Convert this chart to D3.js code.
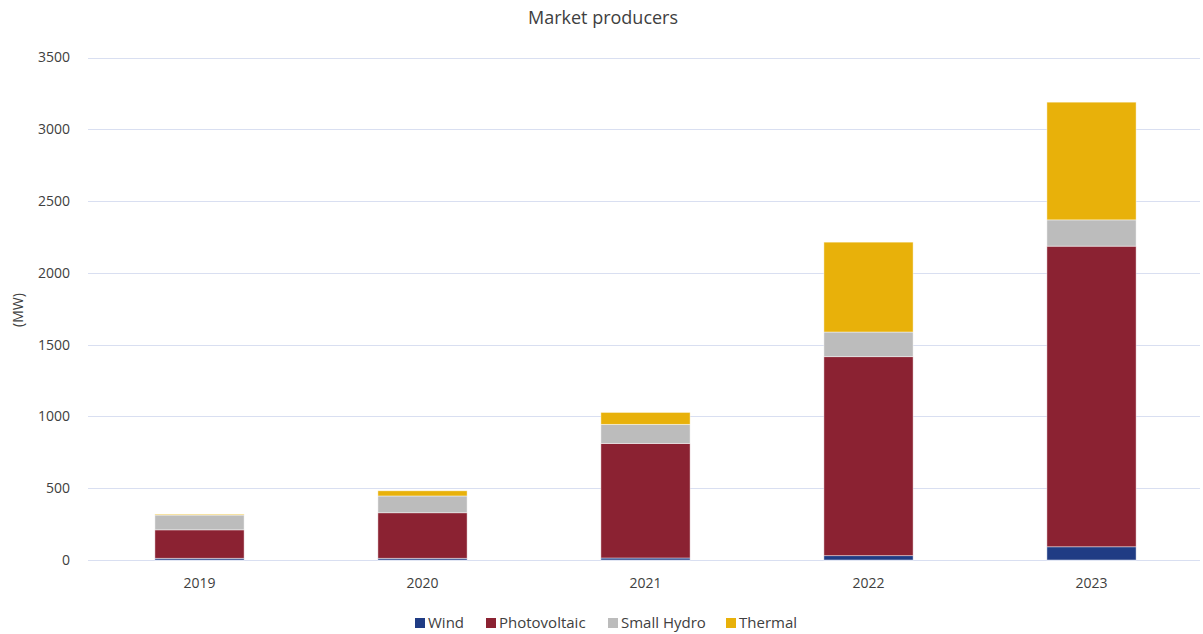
<!DOCTYPE html>
<html>
<head>
<meta charset="utf-8">
<script src="https://cdn.jsdelivr.net/npm/d3@7"></script>
<style>
    body { margin: 0; background: #fff; }
    svg text { font-family: "Open Sans", "Noto Sans", sans-serif; fill: #404040; }
</style>
</head>
<body>
<div id="chart"></div>
<script>
// data
const years = ["2019", "2020", "2021", "2022", "2023"];
const wind = [12, 12, 14, 30, 92];
const photovoltaic = [198, 317, 798, 1386, 2094];
const smallHydro = [103, 117, 133, 172, 183];
const thermal = [6, 36, 83, 626, 820];
const seriesNames = ["Wind", "Photovoltaic", "Small Hydro", "Thermal"];
const yTicks = [0, 500, 1000, 1500, 2000, 2500, 3000, 3500];

const colors = ["#203C84", "#8B2232", "#BCBCBC", "#E8B10A"];

const width = 1203;
const height = 634;
const margin = { top: 57.5, right: 0, bottom: 74, left: 88 };

const svg = d3.select("#chart")
    .append("svg")
    .attr("width", width)
    .attr("height", height);

// build table for stack
const rows = years.map((y, i) => ({
    year: y,
    "Wind": wind[i],
    "Photovoltaic": photovoltaic[i],
    "Small Hydro": smallHydro[i],
    "Thermal": thermal[i]
}));
const stacked = d3.stack().keys(seriesNames)(rows);

const x = d3.scaleBand()
    .domain(years)
    .range([margin.left, width - margin.right])
    .paddingInner(0.6)
    .paddingOuter(0.3);

const y = d3.scaleLinear()
    .domain([0, 3500])
    .range([height - margin.bottom, margin.top]);

// gridlines
svg.append("g")
    .selectAll("line")
    .data(yTicks)
    .join("line")
    .attr("x1", margin.left)
    .attr("x2", width - 3)
    .attr("y1", d => Math.round(y(d)) + 0.5)
    .attr("y2", d => Math.round(y(d)) + 0.5)
    .attr("stroke", "#D9DFF1")
    .attr("stroke-width", 1);

// y labels
svg.append("g")
    .selectAll("text")
    .data(yTicks)
    .join("text")
    .attr("x", 70)
    .attr("y", d => y(d))
    .attr("dy", "0.35em")
    .attr("text-anchor", "end")
    .style("font-size", "14px")
    .text(d => d);

// bars
svg.append("g")
    .selectAll("g")
    .data(stacked)
    .join("g")
    .attr("fill", (d, i) => colors[i])
    .selectAll("rect")
    .data(d => d)
    .join("rect")
    .attr("x", d => x(d.data.year))
    .attr("y", d => y(d[1]))
    .attr("width", x.bandwidth())
    .attr("height", d => Math.max(0, y(d[0]) - y(d[1])))
    .attr("stroke", "#ffffff")
    .attr("stroke-opacity", 0.6)
    .attr("stroke-width", 0.75);

// x labels
svg.append("g")
    .selectAll("text")
    .data(years)
    .join("text")
    .attr("x", d => x(d) + x.bandwidth() / 2)
    .attr("y", 583)
    .attr("dy", "0.35em")
    .attr("text-anchor", "middle")
    .style("font-size", "14px")
    .text(d => d);

// axis title
svg.append("text")
    .attr("transform", "translate(18,310) rotate(-90)")
    .attr("dy", "0.35em")
    .attr("text-anchor", "middle")
    .style("font-size", "14px")
    .text("(MW)");

// chart title
svg.append("text")
    .attr("x", 603)
    .attr("y", 18)
    .attr("dy", "0.35em")
    .attr("text-anchor", "middle")
    .style("font-size", "18px")
    .text("Market producers");

// legend
const legendX = [415, 486, 608, 726];
const legend = svg.append("g")
    .selectAll("g")
    .data(seriesNames)
    .join("g")
    .attr("transform", (d, i) => `translate(${legendX[i]},623)`);

legend.append("rect")
    .attr("x", 0)
    .attr("y", -5)
    .attr("width", 10)
    .attr("height", 10)
    .attr("fill", (d, i) => colors[i]);

legend.append("text")
    .attr("x", 13)
    .attr("y", 0)
    .attr("dy", "0.35em")
    .style("font-size", "15px")
    .text(d => d);
</script>
</body>
</html>
